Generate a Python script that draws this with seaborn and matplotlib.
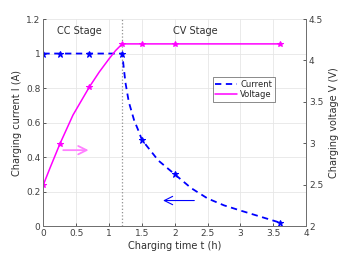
import numpy as np
import pandas as pd
import matplotlib
matplotlib.use("Agg")
import matplotlib.pyplot as plt
import seaborn as sns

t_current = [0, 0.25, 0.7, 1.2, 1.22, 1.25, 1.3, 1.38, 1.45, 1.5, 1.75, 2.0,
             2.25, 2.5, 2.75, 3.0, 3.3, 3.6]
current = [1.0, 1.0, 1.0, 1.0, 0.93, 0.83, 0.72, 0.615, 0.55, 0.5, 0.38, 0.3,
           0.22, 0.16, 0.12, 0.09, 0.055, 0.02]
t_voltage = [0, 0.1, 0.25, 0.45, 0.7, 0.85, 1.0, 1.1, 1.2, 1.5, 2.0, 3.6]
voltage = [2.5, 2.70, 2.99, 3.34, 3.68, 3.86, 4.02, 4.12, 4.2, 4.2, 4.2, 4.2]
marker_times = [0, 0.25, 0.7, 1.2, 1.5, 2.0, 3.6]

sns.set_theme(style="ticks")
plt.rcParams['font.family'] = ['DejaVu Sans']

df_i = pd.DataFrame({'t': t_current, 'I': current})
df_v = pd.DataFrame({'t': t_voltage, 'V': voltage})
mark_i = [i for i, t in enumerate(t_current) if t in marker_times]
mark_v = [i for i, t in enumerate(t_voltage) if t in marker_times]

fig = plt.figure(figsize=(3.39, 2.54), dpi=100)
ax = fig.add_axes([0.128, 0.110, 0.775, 0.815])
ax2 = ax.twinx()

blue = '#0000ff'
mag = '#ff00ff'
sns.lineplot(data=df_i, x='t', y='I', ax=ax, color=blue, lw=1.3, ls=(0, (3.5, 2.5)),
             marker='*', markersize=4.5, markevery=mark_i, mec=blue, mfc=blue,
             label='Current', legend=False)
sns.lineplot(data=df_v, x='t', y='V', ax=ax2, color=mag, lw=1.1,
             marker='*', markersize=4, markevery=mark_v, mec=mag, mfc=mag,
             label='Voltage', legend=False)

ax.axvline(1.2, color='#909090', lw=0.9, ls=':', zorder=1)

ax.set_xlim(0, 4)
ax.set_ylim(0, 1.2)
ax2.set_ylim(2, 4.5)
ax.set_xticks(np.arange(0, 4.01, 0.5))
ax.set_xticklabels(['0', '0.5', '1', '1.5', '2', '2.5', '3', '3.5', '4'])
ax.set_yticks(np.arange(0, 1.21, 0.2))
ax.set_yticklabels(['0', '0.2', '0.4', '0.6', '0.8', '1', '1.2'])
ax2.set_yticks(np.arange(2, 4.51, 0.5))
ax2.set_yticklabels(['2', '2.5', '3', '3.5', '4', '4.5'])
ax.grid(True, color='#e6e6e6', lw=0.6)
ax.set_axisbelow(True)

for a in (ax, ax2):
    a.tick_params(direction='in', length=2.5, width=0.6, labelsize=6.5,
                  colors='#404040', pad=2)
    a.spines['top'].set_visible(False)
    for s in ('left', 'right', 'bottom'):
        a.spines[s].set_color('#707070')
        a.spines[s].set_linewidth(0.7)

ax.set_xlabel('Charging time t (h)', fontsize=7, color='#303030', labelpad=2)
ax.set_ylabel('Charging current I (A)', fontsize=7, color='#303030', labelpad=3)
ax2.set_ylabel('Charging voltage V (V)', fontsize=7, color='#303030', labelpad=4)

ax.text(0.21, 1.13, 'CC Stage', fontsize=7, color='#303030', va='center')
ax.text(1.98, 1.13, 'CV Stage', fontsize=7, color='#303030', va='center')

ax.annotate('', xy=(0.73, 0.44), xytext=(0.26, 0.44),
            arrowprops=dict(arrowstyle='->,head_length=0.5,head_width=0.25',
                            color='#ff80ff', lw=1.3))
ax.annotate('', xy=(1.78, 0.148), xytext=(2.34, 0.148),
            arrowprops=dict(arrowstyle='->,head_length=0.5,head_width=0.25',
                            color=blue, lw=0.8))

h1, l1 = ax.get_legend_handles_labels()
h2, l2 = ax2.get_legend_handles_labels()
leg = ax2.legend(h1 + h2, l1 + l2, loc='upper left', bbox_to_anchor=(0.645, 0.72),
                 fontsize=6, frameon=True, fancybox=False, handlelength=2.6,
                 borderpad=0.3, labelspacing=0.2, handletextpad=0.4, borderaxespad=0)
leg.get_frame().set_edgecolor('#555555')
leg.get_frame().set_linewidth(0.6)
for h in leg.legend_handles:
    h.set_marker('')

fig.savefig('out.png', dpi=100)
